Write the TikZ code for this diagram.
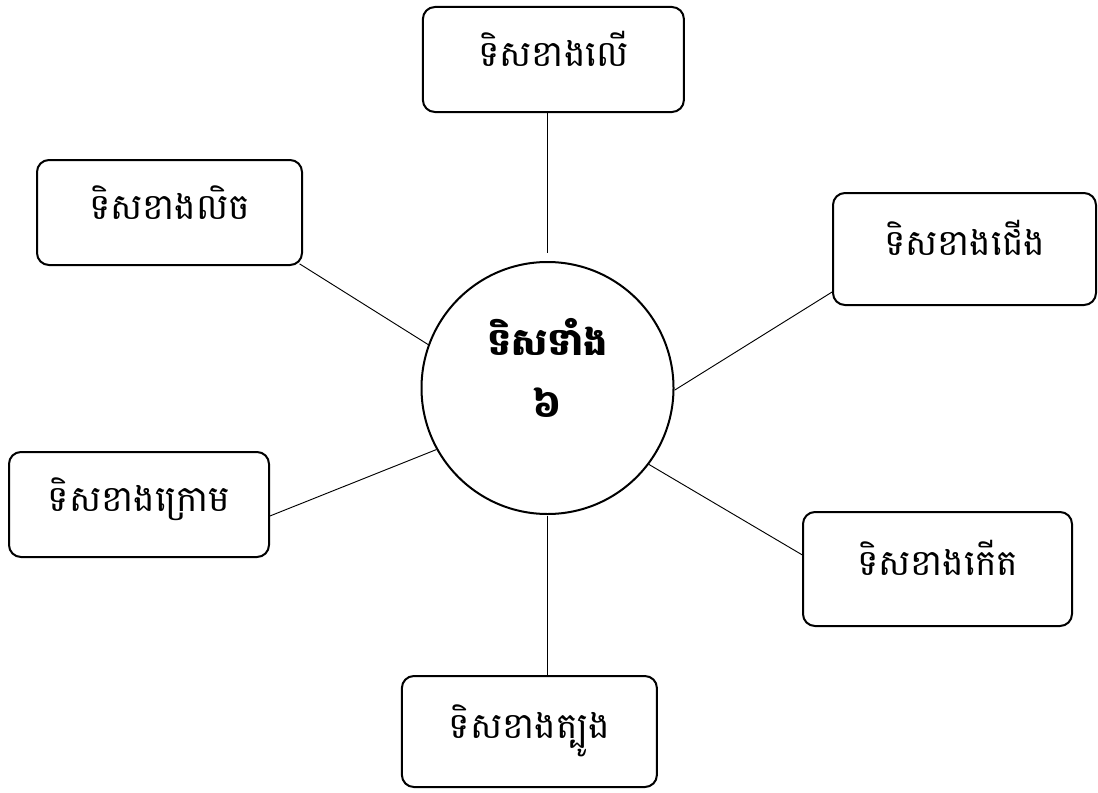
\documentclass[tikz,border=0pt]{standalone}
\usepackage{fontspec}
\newfontfamily\khmerfont[Script=Khmer]{Battambang}

\begin{document}
\begin{tikzpicture}[x=0.75pt, y=-0.75pt,
		dirbox/.style={draw, line width=1.5pt, rounded corners=9pt, inner sep=0pt,
			font=\khmerfont\fontsize{27}{32}\selectfont, text height=25pt, text depth=15pt},
		hub/.style={draw, circle, line width=1.5pt, inner sep=0pt, minimum size=189pt, align=center,
			font=\khmerfont\bfseries\fontsize{28.5}{46.5}\selectfont, text height=50pt, text depth=5.6pt},
		spoke/.style={line width=0.7pt}]
			%%%%% START %%%%%
			
			\useasboundingbox (0, 0) rectangle (1098, 792);
			
			\node[hub] (hub) at (547.5, 388) {ទិសទាំង\\៦};
			
			\node[dirbox, minimum width=195.75pt, minimum height=78.75pt] (up) at (553.4, 59.5) {ទិសខាងលើ};
			\node[dirbox, minimum width=198.75pt, minimum height=78.75pt] (west) at (169.5, 212.5) {ទិសខាងលិច};
			\node[dirbox, minimum width=197.25pt, minimum height=84pt] (north) at (964.5, 249) {ទិសខាងជើង};
			\node[dirbox, minimum width=195pt, minimum height=78.75pt] (down) at (139, 504.5) {ទិសខាងក្រោម};
			\node[dirbox, minimum width=201.75pt, minimum height=85.5pt] (east) at (937.5, 569) {ទិសខាងកើត};
			\node[dirbox, minimum width=191.25pt, minimum height=83.25pt] (south) at (529.4, 731.5) {ទិសខាងត្បូង};
			
			\draw[spoke] (hub.north |- up.south) -- ([yshift=6pt]hub.north);
			\draw[spoke, shorten <=-3pt] (west.south east) -- (hub.160);
			\draw[spoke] (north.198) -- (hub.-1);
			\draw[spoke] (down.-5) -- (hub.209);
			\draw[spoke] (east.174) -- (hub.-37);
			\draw[spoke] ([yshift=-1pt]hub.south) -- (hub.south |- south.north);
			
			%%%%% END %%%%%
		\end{tikzpicture}
\end{document}
